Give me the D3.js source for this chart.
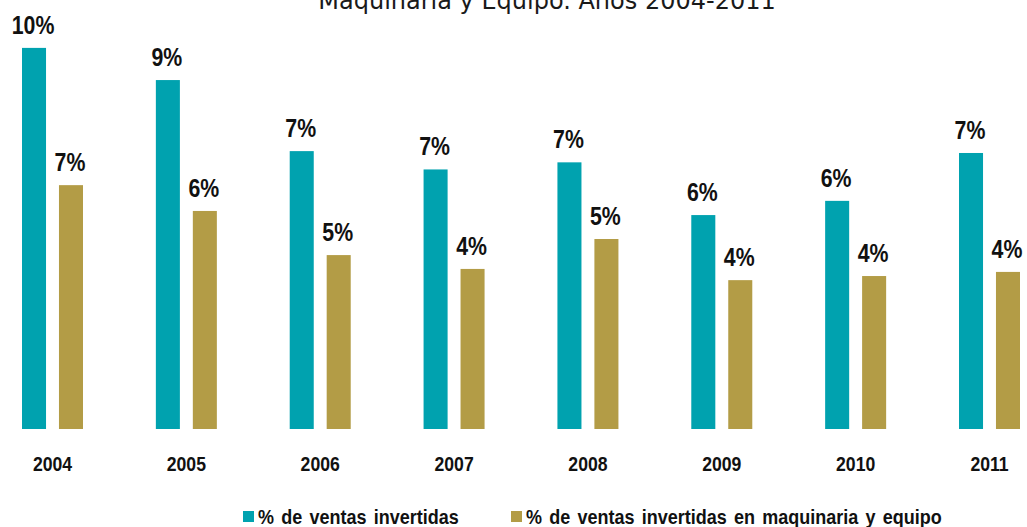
<!DOCTYPE html>
<html>
<head>
<meta charset="utf-8">
<script src="https://cdn.jsdelivr.net/npm/d3@7/dist/d3.min.js"></script>
<style>
  html, body { margin: 0; padding: 0; background: #fff; }
  svg { display: block; }
</style>
</head>
<body>
<svg id="chart" width="1027" height="527"></svg>
<script>
const title = "Maquinaria y Equipo. Años 2004-2011";
const years = ["2004", "2005", "2006", "2007", "2008", "2009", "2010", "2011"];
const seriesNames = ["% de ventas invertidas", "% de ventas invertidas en maquinaria y equipo"];
const ventasInvertidas = [10.19, 9.33, 7.43, 6.94, 7.13, 5.72, 6.10, 7.38];
const maquinariaEquipo = [6.52, 5.83, 4.65, 4.28, 5.08, 3.98, 4.09, 4.20];
const colors = ["#00A2AF", "#B39C46"];

const svg = d3.select("#chart");
const baseY = 429;

const x0 = d3.scaleBand().domain(years).range([22, 1020]).paddingInner(0.5443).paddingOuter(0);
const x1 = d3.scaleBand().domain([0, 1]).range([0, x0.bandwidth()]).paddingInner(0.35).paddingOuter(0);
const y = d3.scaleLinear().domain([0, 11]).range([baseY, baseY - 11 * 37.4]);

const data = years.map((yr, i) => ({ year: yr, vals: [ventasInvertidas[i], maquinariaEquipo[i]] }));

// title (partially cut off at top as in the reference)
svg.append("text")
  .attr("x", 547).attr("y", 9)
  .attr("text-anchor", "middle")
  .attr("font-family", "DejaVu Sans, sans-serif")
  .attr("font-size", 24)
  .attr("fill", "#1a1a1a")
  .text(title);

const groups = svg.selectAll("g.grp").data(data).join("g")
  .attr("class", "grp")
  .attr("transform", d => `translate(${x0(d.year)},0)`);

groups.selectAll("rect").data(d => d.vals.map((v, k) => ({ v, k }))).join("rect")
  .attr("x", d => x1(d.k))
  .attr("width", x1.bandwidth())
  .attr("y", d => y(d.v))
  .attr("height", d => y(0) - y(d.v))
  .attr("fill", d => colors[d.k]);

groups.selectAll("text.val").data(d => d.vals.map((v, k) => ({ v, k }))).join("text")
  .attr("class", "val")
  .attr("transform", d => `translate(${x1(d.k) + x1.bandwidth() / 2 - 1},${y(d.v) - 14}) scale(0.82,1)`)
  .attr("text-anchor", "middle")
  .attr("font-family", "Liberation Sans, Arial, sans-serif")
  .attr("font-weight", "bold")
  .attr("font-size", 26)
  .attr("fill", "#111")
  .text(d => Math.round(d.v) + "%");

// x axis labels
const xAxis = d3.axisBottom(x0).tickSize(0).tickPadding(0);
const ax = svg.append("g").attr("transform", `translate(0,${baseY})`).call(xAxis);
ax.select(".domain").remove();
ax.selectAll(".tick text")
  .attr("y", 0).attr("dy", 0)
  .attr("transform", "translate(0,42) scale(0.84,1)")
  .attr("font-family", "Liberation Sans, Arial, sans-serif")
  .attr("font-weight", "bold")
  .attr("font-size", 21)
  .attr("fill", "#111");

// legend
const legX = [243, 511];
const leg = svg.selectAll("g.leg").data(seriesNames).join("g")
  .attr("class", "leg")
  .attr("transform", (d, i) => `translate(${legX[i]},0)`);
leg.append("rect")
  .attr("x", 0).attr("y", 511).attr("width", 11).attr("height", 11)
  .attr("fill", (d, i) => colors[i]);
leg.append("text")
  .attr("transform", "translate(15,524) scale(0.9,1)")
  .attr("font-family", "Liberation Sans, Arial, sans-serif")
  .attr("font-weight", "bold")
  .attr("font-size", 20)
  .attr("word-spacing", 2.5)
  .attr("fill", "#111")
  .text(d => d);
</script>
</body>
</html>
